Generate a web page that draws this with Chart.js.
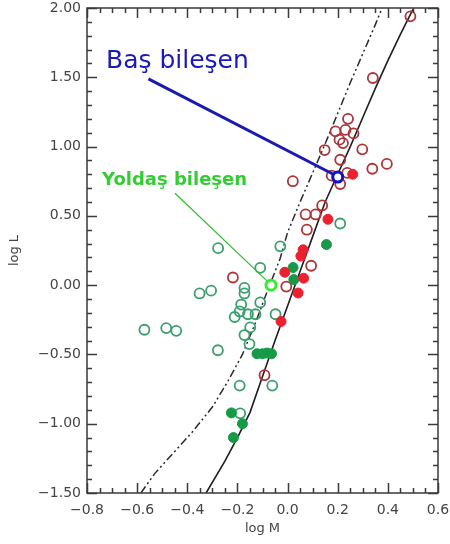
<!DOCTYPE html>
<html>
<head>
<meta charset="utf-8">
<script src="https://cdn.jsdelivr.net/npm/chart.js"></script>
<style>
  html, body { margin: 0; padding: 0; background: #fff; }
  #wrap { width: 450px; height: 544px; }
</style>
</head>
<body>
<div id="wrap"><canvas id="Chart" width="450" height="544"></canvas></div>
<script>
"use strict";

// axis ticks
var xTicks = [-0.8, -0.6, -0.4, -0.2, 0.0, 0.2, 0.4, 0.6];
var yTicks = [-1.5, -1.0, -0.5, 0.0, 0.5, 1.0, 1.5, 2.0];

// solid curve
var solidM = [-0.325, -0.25, -0.2, -0.15, -0.1, -0.05, 0.0, 0.05, 0.1, 0.15, 0.2, 0.25, 0.3, 0.35, 0.4, 0.45, 0.5];
var solidL = [-1.5, -1.27, -1.1, -0.92, -0.66, -0.4, -0.15, 0.1, 0.35, 0.6, 0.8, 1.0, 1.21, 1.42, 1.62, 1.81, 1.99];

// dash-dot curve
var dashM = [-0.585, -0.53, -0.46, -0.38, -0.3, -0.24, -0.18, -0.13, -0.08, -0.03, 0.0, 0.05, 0.1, 0.15, 0.2, 0.25, 0.3, 0.35, 0.377];
var dashL = [-1.5, -1.36, -1.22, -1.06, -0.88, -0.7, -0.5, -0.28, -0.04, 0.19, 0.38, 0.6, 0.81, 1.02, 1.24, 1.46, 1.67, 1.88, 2.0];

// red open circles
var redOpenM = [0.49, 0.34, 0.241, 0.191, 0.231, 0.263, 0.207, 0.221, 0.148, 0.298, 0.21, 0.338, 0.396, 0.238, 0.176, 0.21, 0.021, 0.138, 0.072, 0.112, 0.077, 0.094, -0.005, -0.218, -0.092];
var redOpenL = [1.94, 1.495, 1.2, 1.11, 1.12, 1.095, 1.05, 1.025, 0.975, 0.98, 0.905, 0.84, 0.875, 0.81, 0.79, 0.73, 0.75, 0.575, 0.51, 0.51, 0.4, 0.14, -0.01, 0.055, -0.65];

// red filled
var redFillM = [0.26, 0.161, 0.062, 0.053, -0.011, 0.064, 0.042, -0.026];
var redFillL = [0.8, 0.475, 0.255, 0.21, 0.093, 0.05, -0.057, -0.262];

// green open circles
var greenOpenM = [0.21, -0.029, -0.277, -0.109, -0.305, -0.351, -0.172, -0.172, -0.109, -0.185, -0.191, -0.158, -0.128, -0.211, -0.048, -0.149, -0.172, -0.152, -0.278, -0.571, -0.484, -0.444, -0.191, -0.061, -0.189];
var greenOpenL = [0.445, 0.28, 0.267, 0.125, -0.04, -0.06, -0.02, -0.06, -0.125, -0.14, -0.19, -0.21, -0.21, -0.23, -0.21, -0.305, -0.36, -0.425, -0.47, -0.322, -0.31, -0.33, -0.725, -0.725, -0.925];

// green filled
var greenFillM = [0.155, 0.022, 0.025, -0.122, -0.1, -0.082, -0.064, -0.224, -0.18, -0.216];
var greenFillL = [0.293, 0.127, 0.04, -0.495, -0.495, -0.49, -0.495, -0.922, -1.0, -1.1];

// highlighted components
var primaryM = [0.2], primaryL = [0.78];
var secondaryM = [-0.066], secondaryL = [0.0];

// pointer lines
var primaryLineM = [-0.555, 0.188], primaryLineL = [1.488, 0.795];
var secondaryLineM = [-0.449, -0.075], secondaryLineL = [0.663, 0.018];

function pairs(xs, ys) {
  return xs.map(function (x, i) { return { x: x, y: ys[i] }; });
}

function fmt(v, d) {
  return v.toFixed(d).replace('-', '\u2212');
}

function isMajor(list, v) {
  return list.some(function (t) { return Math.abs(t - v) < 1e-6; });
}

// frame + inward ticks + labels
var framePlugin = {
  id: 'frame',
  afterDraw: function (chart) {
    var c = chart.ctx, a = chart.chartArea;
    var xs = chart.scales.x, ys = chart.scales.y;
    c.save();
    c.strokeStyle = '#3a3a3a';
    c.lineWidth = 1.5;
    c.strokeRect(a.left, a.top, a.right - a.left, a.bottom - a.top);

    c.beginPath();
    for (var i = 0; i <= 28; i++) {
      var xv = Math.round((-0.8 + i * 0.05) * 100) / 100;
      var px = Math.round(xs.getPixelForValue(xv)) + 0.5;
      var xl = isMajor(xTicks, xv) ? 10 : 5;
      c.moveTo(px, a.bottom); c.lineTo(px, a.bottom - xl);
      c.moveTo(px, a.top); c.lineTo(px, a.top + xl);
    }
    for (var j = 0; j <= 35; j++) {
      var yv = Math.round((-1.5 + j * 0.1) * 100) / 100;
      var py = Math.round(ys.getPixelForValue(yv)) + 0.5;
      var yl = isMajor(yTicks, yv) ? 10 : 5;
      c.moveTo(a.left, py); c.lineTo(a.left + yl, py);
      c.moveTo(a.right, py); c.lineTo(a.right - yl, py);
    }
    c.stroke();

    c.textBaseline = 'alphabetic';
    c.textAlign = 'left';
    c.fillStyle = '#1a1ab8';
    c.font = '25px "DejaVu Sans"';
    c.fillText('Baş bileşen', 106, 68);
    c.fillStyle = '#33cc33';
    c.font = 'bold 18px "DejaVu Sans"';
    c.fillText('Yoldaş bileşen', 102, 185);
    c.restore();
  }
};

var ctx = document.getElementById('Chart').getContext('2d');
var chart = new Chart(ctx, {
  type: 'scatter',
  data: {
    datasets: [{
      data: pairs(solidM, solidL),
      showLine: true,
      borderColor: '#1e1e1e',
      borderWidth: 1.6,
      pointRadius: 0,
      order: 10
    }, {
      data: pairs(dashM, dashL),
      showLine: true,
      borderColor: '#2a2a2a',
      borderWidth: 1.5,
      borderDash: [8, 3, 2, 3, 2, 3],
      pointRadius: 0,
      order: 10
    }, {
      data: pairs(redOpenM, redOpenL),
      pointRadius: 5,
      borderWidth: 1.8,
      borderColor: '#ad3438',
      backgroundColor: 'rgba(0,0,0,0)',
      order: 3
    }, {
      data: pairs(greenOpenM, greenOpenL),
      pointRadius: 5,
      borderWidth: 1.8,
      borderColor: '#3a9f6c',
      backgroundColor: 'rgba(0,0,0,0)',
      order: 3
    }, {
      data: pairs(redFillM, redFillL),
      pointRadius: 5,
      borderWidth: 1,
      borderColor: '#e8242e',
      backgroundColor: '#ec2030',
      order: 2
    }, {
      data: pairs(greenFillM, greenFillL),
      pointRadius: 5,
      borderWidth: 1,
      borderColor: '#169a48',
      backgroundColor: '#169a48',
      order: 2
    }, {
      data: pairs(primaryLineM, primaryLineL),
      showLine: true,
      borderColor: '#1a1ab0',
      borderWidth: 3,
      pointRadius: 0,
      order: 1
    }, {
      data: pairs(secondaryLineM, secondaryLineL),
      showLine: true,
      borderColor: '#33bb33',
      borderWidth: 1.2,
      pointRadius: 0,
      order: 1
    }, {
      data: pairs(primaryM, primaryL),
      pointRadius: 5,
      borderWidth: 3,
      borderColor: '#1010c8',
      backgroundColor: '#fff',
      order: 0
    }, {
      data: pairs(secondaryM, secondaryL),
      pointRadius: 5,
      borderWidth: 3,
      borderColor: '#33ee33',
      backgroundColor: '#fff',
      order: 0
    }]
  },
  options: {
    responsive: false,
    animation: false,
    layout: { padding: { top: 8, right: 12, left: 0, bottom: 0 } },
    plugins: {
      legend: { display: false },
      tooltip: { enabled: false }
    },
    scales: {
      x: {
        type: 'linear',
        min: -0.8,
        max: 0.6,
        grid: { display: false, drawTicks: false },
        border: { display: false },
        afterFit: function (s) {
          s.height = 51;
          s.paddingLeft = 0;
          s.paddingRight = 0;
        },
        afterBuildTicks: function (s) {
          s.ticks = xTicks.map(function (v) { return { value: v }; });
        },
        ticks: {
          padding: 9,
          color: '#444',
          font: { family: 'DejaVu Sans', size: 14 },
          callback: function (v) { return fmt(v, 1); }
        },
        title: {
          display: true,
          text: 'log M',
          color: '#444',
          font: { family: 'DejaVu Sans', size: 13 },
          padding: { top: 0, bottom: 8 }
        }
      },
      y: {
        type: 'linear',
        min: -1.5,
        max: 2.0,
        grid: { display: false, drawTicks: false },
        border: { display: false },
        afterFit: function (s) {
          s.width = 87;
          s.paddingTop = 0;
          s.paddingBottom = 0;
        },
        afterBuildTicks: function (s) {
          s.ticks = yTicks.map(function (v) { return { value: v }; });
        },
        ticks: {
          padding: 6,
          color: '#444',
          font: { family: 'DejaVu Sans', size: 14 },
          callback: function (v) { return fmt(v, 2); }
        },
        title: {
          display: true,
          text: 'log L',
          color: '#444',
          font: { family: 'DejaVu Sans', size: 13 },
          padding: { top: 7, bottom: 0 }
        }
      }
    }
  },
  plugins: [framePlugin]
});
</script>
</body>
</html>
